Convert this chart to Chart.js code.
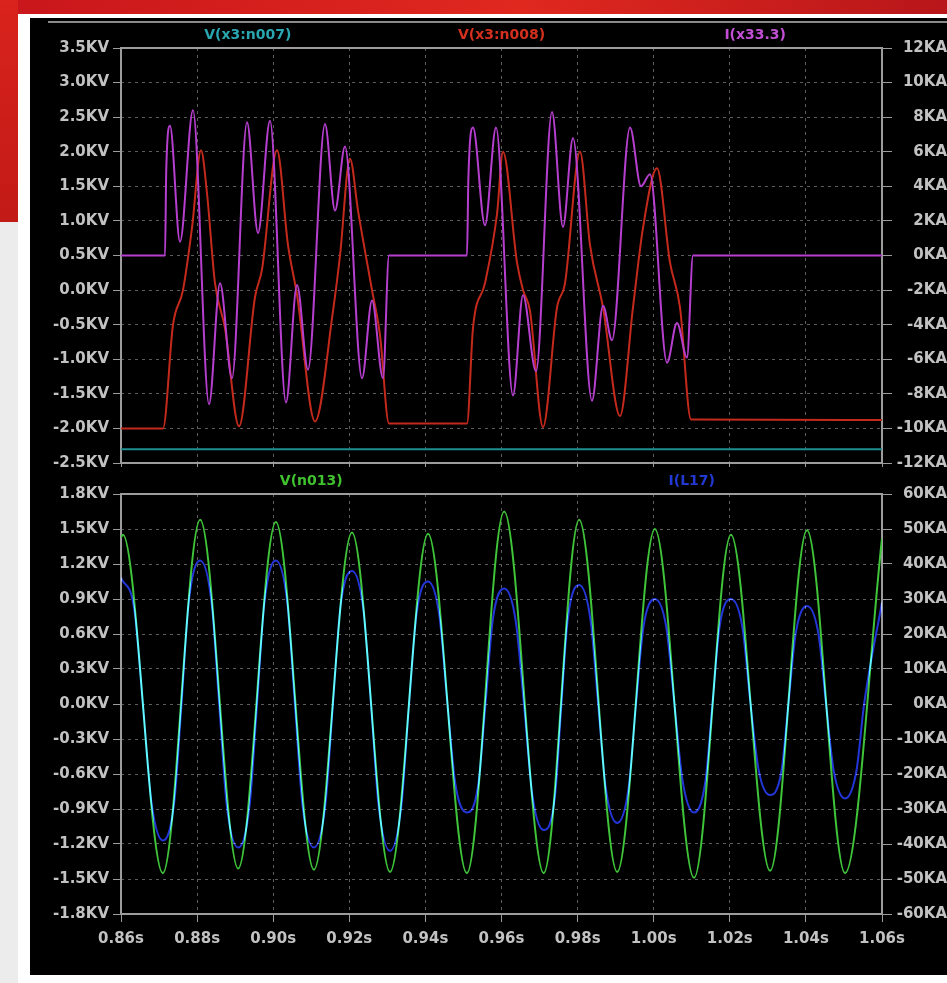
<!DOCTYPE html>
<html>
<head>
<meta charset="utf-8">
<script src="https://cdn.jsdelivr.net/npm/chart.js@4.4.0/dist/chart.umd.min.js"></script>
<style>
  html, body { margin: 0; padding: 0; width: 947px; height: 983px; overflow: hidden; background: #ececec; }
  #banner { position: absolute; left: 0; top: 0; width: 947px; height: 16px; background: linear-gradient(90deg, #c9161b, #e0281f 55%, #b8161a); }
  #side { position: absolute; left: 0; top: 0; width: 18px; height: 222px; background: linear-gradient(180deg, #d9231c, #c21a17); }
  #frame { position: absolute; left: 18px; top: 14px; width: 929px; height: 969px; background: #ffffff; }
  #panel { position: absolute; left: 30px; top: 18px; width: 917px; height: 957px; background: #000000; }
  canvas { position: absolute; left: 30px; }
  #upper { top: 20px; }
  #lower { top: 471px; }
</style>
</head>
<body>
<div id="banner"></div>
<div id="side"></div>
<div id="frame"></div>
<div id="panel"></div>
<canvas id="upper" width="917" height="461"></canvas>
<canvas id="lower" width="917" height="504"></canvas>
<script>
// ---- axis ticks ----
const timeTicks = [0.86, 0.88, 0.90, 0.92, 0.94, 0.96, 0.98, 1.00, 1.02, 1.04, 1.06];
const upperVoltTicks = [3.5, 3.0, 2.5, 2.0, 1.5, 1.0, 0.5, 0.0, -0.5, -1.0, -1.5, -2.0, -2.5];
const upperAmpTicks = [12, 10, 8, 6, 4, 2, 0, -2, -4, -6, -8, -10, -12];
const lowerVoltTicks = [1.8, 1.5, 1.2, 0.9, 0.6, 0.3, 0.0, -0.3, -0.6, -0.9, -1.2, -1.5, -1.8];
const lowerAmpTicks = [60, 50, 40, 30, 20, 10, 0, -10, -20, -30, -40, -50, -60];

// ---- trace names ----
const upperNames = ['V(x3:n007)', 'V(x3:n008)', 'I(x33.3)'];
const lowerNames = ['V(n013)', 'I(L17)'];

// ---- V(x3:n007), kV ----
const n007Time = [0.86, 1.06];
const n007Volt = [-2.3, -2.3];

// ---- V(x3:n008), kV ----
const n008Time = [0.86, 0.87104, 0.87367, 0.87629, 0.87866, 0.88103, 0.88260, 0.88470, 0.88733, 0.89101,
  0.89522, 0.89706, 0.90100, 0.90389, 0.90626, 0.91099, 0.91572, 0.91756, 0.92018, 0.92229,
  0.92597, 0.92807, 0.93043, 0.95093, 0.95251, 0.95566, 0.95882, 0.96039, 0.96407, 0.96565,
  0.96749, 0.97091, 0.97459, 0.97669, 0.98063, 0.98326, 0.98668, 0.99114, 0.99456, 0.99719,
  1.00087, 1.00428, 1.00691, 1.00980, 1.06];
const n008Volt = [-2.0, -2.0, -0.5, 0.0, 0.9, 2.02, 1.4, 0.1, -0.55, -1.97,
  -0.1, 0.3, 2.02, 0.65, -0.07, -1.9, -0.3, 0.5, 1.9, 1.15,
  0.0, -0.65, -1.93, -1.93, -0.55, 0.1, 1.1, 2.0, 0.4, 0.0,
  -0.3, -1.98, -0.25, 0.1, 2.0, 0.65, -0.25, -1.82, -0.25, 0.9,
  1.76, 0.4, -0.25, -1.87, -1.88];

// ---- I(x33.3), kA ----
const x33Time = [0.86, 0.87156, 0.8719, 0.87288, 0.87551, 0.87892, 0.88313, 0.88602, 0.88917, 0.89311,
  0.89601, 0.89916, 0.90336, 0.90626, 0.90915, 0.91361, 0.91624, 0.91887, 0.92334, 0.92597,
  0.92886, 0.93043, 0.95093, 0.9513, 0.95251, 0.95566, 0.95856, 0.96302, 0.96565, 0.96907,
  0.97327, 0.97616, 0.97879, 0.98378, 0.98668, 0.98904, 0.99377, 0.99666, 0.99903, 1.00350,
  1.00612, 1.00875, 1.01033, 1.06];
const x33Amp = [0, 0, 5.0, 7.5, 0.8, 8.4, -8.6, -1.6, -7.1, 7.7,
  1.3, 7.8, -8.5, -1.7, -6.6, 7.6, 2.6, 6.3, -7.1, -2.6,
  -7.1, 0, 0, 4.5, 7.4, 1.75, 7.4, -8.1, -2.3, -6.7,
  8.3, 1.65, 6.8, -8.4, -2.9, -4.9, 7.4, 4.0, 4.7, -6.2,
  -3.9, -5.9, 0, 0];

// ---- V(n013), kV ----
const n013Time = [0.86, 0.8605, 0.8710, 0.8808, 0.8908, 0.9007, 0.9107, 0.9207, 0.9307, 0.9407,
  0.9509, 0.9607, 0.9711, 0.9804, 0.9904, 1.0003, 1.0106, 1.0203, 1.0306, 1.0403,
  1.0503, 1.06];
const n013Volt = [1.43, 1.45, -1.45, 1.58, -1.41, 1.56, -1.42, 1.47, -1.44, 1.46,
  -1.45, 1.65, -1.45, 1.58, -1.44, 1.50, -1.49, 1.45, -1.43, 1.49,
  -1.45, 1.42];

// ---- I(L17), kA ----
const l17Time = [0.86, 0.8635, 0.86575, 0.8680, 0.8710, 0.8740, 0.8759, 0.8778, 0.8808, 0.8838,
  0.8858, 0.8878, 0.8908, 0.8938, 0.89575, 0.8977, 0.9007, 0.9037, 0.9057, 0.9077,
  0.9107, 0.9137, 0.9157, 0.9177, 0.9207, 0.9237, 0.9257, 0.9277, 0.9307, 0.9337,
  0.9357, 0.9377, 0.9407, 0.9437, 0.9458, 0.9479, 0.9509, 0.9539, 0.9558, 0.9577,
  0.9607, 0.9637, 0.9659, 0.9681, 0.9711, 0.9741, 0.97575, 0.9774, 0.9804, 0.9834,
  0.9854, 0.9874, 0.9904, 0.9934, 0.99535, 0.9973, 1.0003, 1.0033, 1.00545, 1.0076,
  1.0106, 1.0136, 1.01545, 1.0173, 1.0203, 1.0233, 1.02545, 1.0276, 1.0306, 1.0336,
  1.0354, 1.0373, 1.0403, 1.0433, 1.0453, 1.0473, 1.0503, 1.0533, 1.0553, 1.06];
const l17Amp = [36, 27, 0, -28, -39, -28, 0, 29, 41, 29,
  0, -29, -41, -29, 0, 29, 41, 29, 0, -29,
  -41, -29, 0, 28, 38, 27, 0, -29, -42, -29,
  0, 26, 35, 25, 0, -23, -31, -23, 0, 24,
  33, 24, 0, -26, -36, -26, 0, 24, 34, 24,
  0, -24, -34, -24, 0, 22, 30, 22, 0, -22,
  -31, -22, 0, 22, 30, 22, 0, -19, -26, -19,
  0, 20, 28, 20, 0, -19, -27, -19, 0, 29];

const pairs = (xs, ys) => xs.map((x, i) => ({ x: x, y: ys[i] }));

// ---- look ----
const GRID = '#5c5c5c';
const FRAME = '#9c9c9c';
const LABEL = '#c2c2c2';
const tickFont = { family: 'DejaVu Sans', weight: 'bold', size: 15 };
const traceFont = 'bold 14px "DejaVu Sans"';

const fmtKV = v => Number(v).toFixed(1) + 'KV';
const fmtKA = v => Math.round(v) + 'KA';
const fmtS = v => Number(v).toFixed(2) + 's';

function fixedTicks(list) {
  return scale => { scale.ticks = list.map(v => ({ value: v })); };
}

// frame around the plot area plus trace names above it
const plotFrame = {
  id: 'plotFrame',
  beforeDatasetsDraw(chart) {
    const { ctx, chartArea: a } = chart;
    ctx.save();
    ctx.strokeStyle = FRAME;
    ctx.lineWidth = 2;
    ctx.strokeRect(a.left, a.top, a.right - a.left, a.bottom - a.top);
    ctx.restore();
  },
  afterDraw(chart, args, opts) {
    const { ctx, chartArea: a } = chart;
    ctx.save();
    if (opts.rule != null) {
      ctx.strokeStyle = '#8a8a8a';
      ctx.lineWidth = 2;
      ctx.beginPath();
      ctx.moveTo(opts.ruleFrom, opts.rule);
      ctx.lineTo(chart.width, opts.rule);
      ctx.stroke();
    }
    ctx.font = traceFont;
    ctx.textAlign = 'center';
    ctx.textBaseline = 'middle';
    const names = opts.names, colors = opts.colors;
    const w = (a.right - a.left) / names.length;
    names.forEach((n, i) => {
      ctx.fillStyle = colors[i];
      ctx.fillText(n, a.left + (i + 0.5) * w, opts.y);
    });
    ctx.restore();
  }
};

// additive blending so overlapping traces mix like on a scope screen
const additive = {
  id: 'additive',
  beforeDatasetDraw(chart, args) {
    if (args.meta._dataset.additive) {
      chart.ctx.save();
      chart.ctx.globalCompositeOperation = 'lighter';
    }
  },
  afterDatasetDraw(chart, args) {
    if (args.meta._dataset.additive) chart.ctx.restore();
  }
};

function timeAxis(showLabels, height) {
  return {
    type: 'linear', min: 0.86, max: 1.06,
    afterBuildTicks: fixedTicks(timeTicks),
    afterFit: s => { s.height = height; },
    ticks: { display: showLabels, color: LABEL, font: tickFont, padding: 8, maxRotation: 0, autoSkip: false, callback: fmtS },
    grid: { color: GRID, lineWidth: 1, tickLength: showLabels ? 8 : 4, tickColor: FRAME, tickWidth: 1 },
    border: { display: false, dash: [3, 4] }
  };
}

function leftAxis(min, max, list, fmt) {
  return {
    type: 'linear', position: 'left', min: min, max: max,
    afterBuildTicks: fixedTicks(list),
    afterFit: s => { s.width = 91; },
    ticks: { color: LABEL, font: tickFont, padding: 4, autoSkip: false, callback: fmt },
    grid: { color: GRID, lineWidth: 1, tickLength: 8, tickColor: FRAME, tickWidth: 1 },
    border: { display: false, dash: [3, 4] }
  };
}

function rightAxis(min, max, list, fmt) {
  return {
    type: 'linear', position: 'right', min: min, max: max,
    afterBuildTicks: fixedTicks(list),
    afterFit: s => { s.width = 65; },
    ticks: { color: LABEL, font: tickFont, padding: 4, crossAlign: 'far', autoSkip: false, callback: fmt },
    grid: { drawOnChartArea: false, tickLength: 10, tickColor: FRAME, tickWidth: 1 },
    border: { display: false }
  };
}

const lineStyle = (color) => ({
  borderColor: color, borderWidth: 2, pointRadius: 0, fill: false,
  cubicInterpolationMode: 'monotone'
});

new Chart(document.getElementById('upper'), {
  type: 'line',
  data: {
    datasets: [
      Object.assign({ label: upperNames[2], data: pairs(x33Time, x33Amp), yAxisID: 'yR' }, lineStyle('#b63fcf')),
      Object.assign({ label: upperNames[1], data: pairs(n008Time, n008Volt), yAxisID: 'yL' }, lineStyle('#c42a1c')),
      Object.assign({ label: upperNames[0], data: pairs(n007Time, n007Volt), yAxisID: 'yL' }, lineStyle('#1f8f92'))
    ]
  },
  options: {
    responsive: false, animation: false, devicePixelRatio: 1,
    layout: { padding: { top: 28, left: 0, right: 0, bottom: 0 } },
    plugins: {
      legend: { display: false }, tooltip: { enabled: false },
      plotFrame: { names: upperNames, colors: ['#2aa6b0', '#d4301e', '#c24fd6'], y: 15, rule: 2, ruleFrom: 18 }
    },
    scales: {
      x: timeAxis(false, 18),
      yL: leftAxis(-2.5, 3.5, upperVoltTicks, fmtKV),
      yR: rightAxis(-12, 12, upperAmpTicks, fmtKA)
    }
  },
  plugins: [plotFrame, additive]
});

new Chart(document.getElementById('lower'), {
  type: 'line',
  data: {
    datasets: [
      Object.assign({ label: lowerNames[1], data: pairs(l17Time, l17Amp), yAxisID: 'yR', additive: true }, lineStyle('#2236d8')),
      Object.assign({ label: lowerNames[0], data: pairs(n013Time, n013Volt), yAxisID: 'yL' }, lineStyle('#3fc43a'))
    ]
  },
  options: {
    responsive: false, animation: false, devicePixelRatio: 1,
    layout: { padding: { top: 23, left: 0, right: 0, bottom: 0 } },
    plugins: {
      legend: { display: false }, tooltip: { enabled: false },
      plotFrame: { names: lowerNames, colors: ['#3fc22e', '#2238d2'], y: 10, rule: null }
    },
    scales: {
      x: timeAxis(true, 61),
      yL: leftAxis(-1.8, 1.8, lowerVoltTicks, fmtKV),
      yR: rightAxis(-60, 60, lowerAmpTicks, fmtKA)
    }
  },
  plugins: [plotFrame, additive]
});
</script>
</body>
</html>
